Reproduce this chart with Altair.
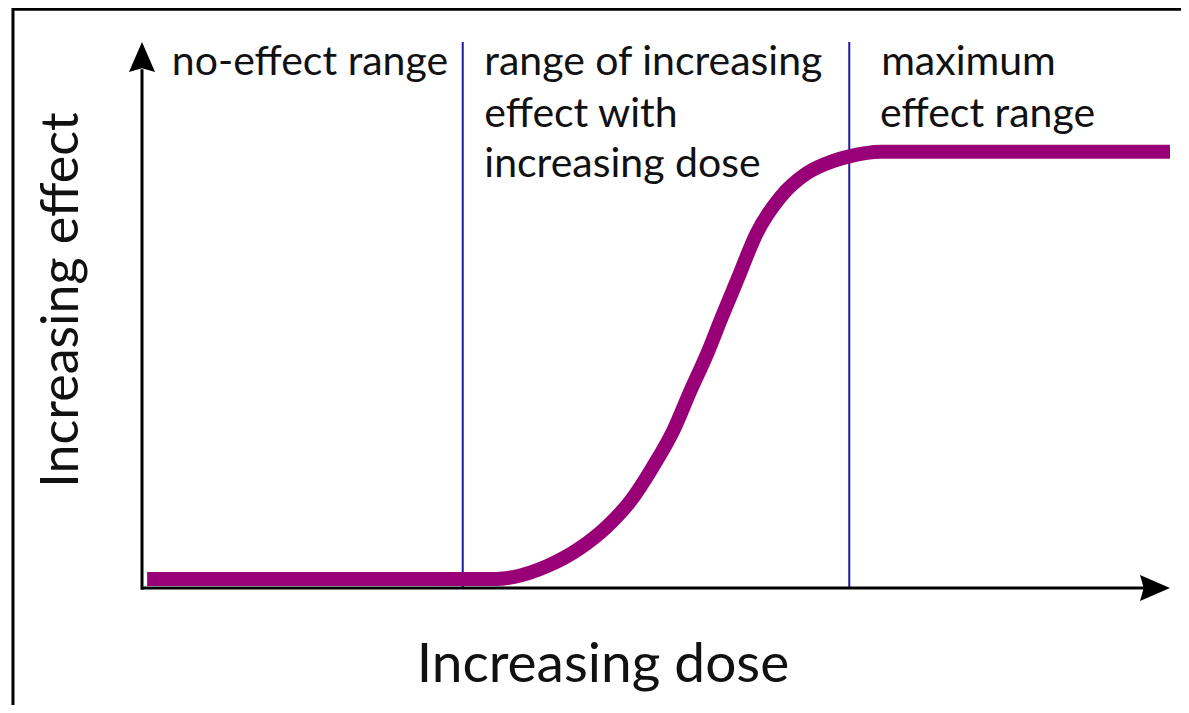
import altair as alt
import pandas as pd

# ---- data (dose in arbitrary units 0..10, effect in % of axis 0..100) ----
curve_dose = [0.05, 3.45, 3.61, 3.94, 4.26, 4.52, 4.75, 4.97, 5.17, 5.33, 5.50, 5.64, 5.79,
              5.98, 6.21, 6.47, 6.72, 6.89, 7.18, 10.0]
curve_effect = [1.65, 1.65, 2.0, 4.0, 7.3, 11.2, 15.9, 22.2, 28.9, 35.9, 43.0, 49.6, 56.4,
                65.0, 71.6, 76.0, 78.2, 79.1, 79.9, 79.9]

boundary_dose = [3.12, 6.88]
boundary_top = [100, 100]

label_text = ["no-effect range", "range of increasing", "effect with", "increasing dose",
              "maximum", "effect range"]
label_dose = [0.29, 3.33, 3.33, 3.33, 7.19, 7.18]
label_effect = [94.0, 94.0, 84.4, 75.3, 94.0, 84.4]

x_title = "Increasing dose"
y_title = "Increasing effect"

# axis extents and arrow positions (in data units)
axis_x_end = 9.8
axis_y_end = 95.0
arrow_x_pos = 9.854
arrow_y_pos = 97.25

# frame
frame_left = -1.255
frame_top = 106.0

W, H = 1173, 697
xs = alt.Scale(domain=[-1.3035, 10.107], nice=False, zero=False)
ys = alt.Scale(domain=[-21.43, 106.23], nice=False, zero=False)
FONT = "Lato"

curve_df = pd.DataFrame({"dose": curve_dose, "effect": curve_effect})
bound_df = pd.DataFrame({"dose": boundary_dose, "top": boundary_top, "bottom": [0, 0]})
label_df = pd.DataFrame({"text": label_text, "dose": label_dose, "effect": label_effect})

frame_df = pd.DataFrame({"x": [frame_left], "x2": [11.0], "y": [frame_top], "y2": [-30.0]})
frame = alt.Chart(frame_df).mark_rect(fill="white", stroke="black", strokeWidth=3, clip=True).encode(
    x=alt.X("x:Q", scale=xs, axis=None), x2="x2:Q",
    y=alt.Y("y:Q", scale=ys, axis=None), y2="y2:Q")

yaxis_df = pd.DataFrame({"x": [0.0], "y": [-0.3], "y2": [axis_y_end]})
xaxis_df = pd.DataFrame({"x": [0.0], "x2": [axis_x_end], "y": [0.0]})
yaxis = alt.Chart(yaxis_df).mark_rule(color="black", strokeWidth=3).encode(
    x=alt.X("x:Q", scale=xs, axis=None), y=alt.Y("y:Q", scale=ys, axis=None), y2="y2:Q")
xaxis = alt.Chart(xaxis_df).mark_rule(color="black", strokeWidth=3).encode(
    x=alt.X("x:Q", scale=xs, axis=None), x2="x2:Q", y=alt.Y("y:Q", scale=ys, axis=None))

arrow_up_df = pd.DataFrame({"x": [0.0], "y": [arrow_y_pos]})
arrow_right_df = pd.DataFrame({"x": [arrow_x_pos], "y": [0.0]})
arrow_up = alt.Chart(arrow_up_df).mark_point(
    shape="M0,-1L-0.87,1L0,0.75L0.87,1Z", filled=True, size=900, color="black", opacity=1, strokeWidth=0
).encode(x=alt.X("x:Q", scale=xs, axis=None), y=alt.Y("y:Q", scale=ys, axis=None))
arrow_right = alt.Chart(arrow_right_df).mark_point(
    shape="M1,0L-1,-0.87L-0.75,0L-1,0.87Z", filled=True, size=900, color="black", opacity=1, strokeWidth=0
).encode(x=alt.X("x:Q", scale=xs, axis=None), y=alt.Y("y:Q", scale=ys, axis=None))

bounds = alt.Chart(bound_df).mark_rule(color="#1a1aa6", strokeWidth=2).encode(
    x=alt.X("dose:Q", scale=xs, axis=None), y=alt.Y("bottom:Q", scale=ys, axis=None), y2="top:Q")

curve = alt.Chart(curve_df).mark_line(
    color="#990077", strokeWidth=14, interpolate="monotone", strokeCap="butt", strokeJoin="round"
).encode(x=alt.X("dose:Q", scale=xs, axis=None), y=alt.Y("effect:Q", scale=ys, axis=None))

labels = alt.Chart(label_df).mark_text(
    align="left", baseline="alphabetic", font=FONT, fontSize=41, color="#111111"
).encode(x=alt.X("dose:Q", scale=xs, axis=None), y=alt.Y("effect:Q", scale=ys, axis=None), text="text:N")

xt_df = pd.DataFrame({"text": [x_title], "x": [4.484], "y": [-17.22]})
yt_df = pd.DataFrame({"text": [y_title], "x": [-0.6226], "y": [52.75]})
xtitle = alt.Chart(xt_df).mark_text(
    align="center", baseline="alphabetic", font=FONT, fontSize=55, color="#111111"
).encode(x=alt.X("x:Q", scale=xs, axis=None), y=alt.Y("y:Q", scale=ys, axis=None), text="text:N")
ytitle = alt.Chart(yt_df).mark_text(
    align="center", baseline="alphabetic", font=FONT, fontSize=52, color="#111111", angle=270
).encode(x=alt.X("x:Q", scale=xs, axis=None), y=alt.Y("y:Q", scale=ys, axis=None), text="text:N")

chart = alt.layer(
    frame, bounds, curve, yaxis, xaxis, arrow_up, arrow_right, labels, xtitle, ytitle
).properties(
    width=W, height=H, padding=0, autosize=alt.AutoSizeParams(type="none")
).configure_view(stroke=None)

chart.save("out.html", embed_options={"renderer": "svg", "actions": False})
